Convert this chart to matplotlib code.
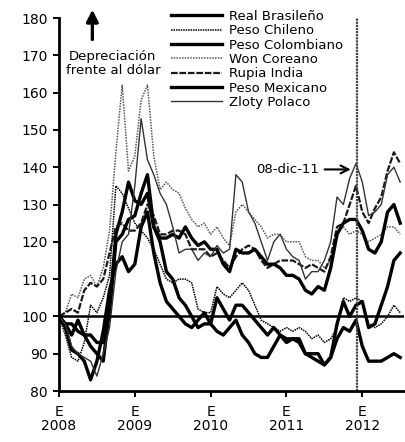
import numpy as np
import matplotlib.pyplot as plt
from matplotlib.lines import Line2D

# =====================================================
# Data (index, Jan 2008 = 100, monthly readings)
# =====================================================

t = 2008 + np.arange(55) / 12.0

real_brasileno = [100, 98, 95, 99, 95, 92, 90, 88, 102, 122, 128, 136,
                  131, 130, 133, 124, 120, 112, 110, 105, 103, 100, 97, 98,
                  98, 105, 102, 99, 103, 103, 101, 99, 97, 95, 97, 95,
                  94, 94, 94, 90, 90, 90, 87, 89, 98, 104, 100, 103,
                  104, 97, 98, 103, 108, 115, 117]
peso_chileno = [100, 95, 89, 88, 93, 103, 101, 105, 111, 135, 133, 129,
                125, 123, 121, 118, 114, 110, 109, 110, 110, 109, 102, 101,
                101, 108, 106, 105, 107, 109, 107, 103, 99, 98, 97, 96,
                97, 96, 97, 96, 94, 95, 93, 94, 97, 105, 104, 105,
                104, 98, 97, 98, 100, 103, 101]
peso_colombiano = [100, 97, 91, 90, 88, 83, 88, 96, 107, 114, 116, 112,
                   114, 124, 128, 117, 109, 104, 102, 100, 98, 97, 99, 101,
                   98, 96, 95, 97, 99, 95, 93, 90, 89, 89, 92, 95,
                   93, 94, 93, 90, 89, 88, 87, 89, 94, 97, 96, 99,
                   92, 88, 88, 88, 89, 90, 89]
won_coreano = [100, 101, 106, 105, 110, 111, 108, 113, 123, 144, 162, 139,
               143, 158, 162, 143, 134, 136, 134, 133, 129, 126, 124, 125,
               122, 124, 121, 119, 128, 130, 128, 126, 124, 121, 122, 122,
               120, 120, 120, 116, 115, 115, 113, 115, 123, 124, 122, 123,
               122, 120, 121, 122, 124, 124, 122]
rupia_india = [100, 101, 102, 101, 107, 109, 108, 110, 117, 124, 125, 123,
               123, 125, 130, 127, 122, 122, 123, 123, 122, 118, 118, 118,
               116, 117, 115, 113, 116, 118, 119, 118, 115, 113, 114, 115,
               115, 115, 114, 113, 114, 113, 112, 116, 124, 125, 130, 135,
               128, 125, 129, 132, 139, 144, 141]
peso_mexicano = [100, 98, 98, 96, 95, 95, 93, 93, 101, 120, 122, 126,
                 127, 133, 138, 124, 121, 121, 122, 121, 124, 121, 119, 120,
                 118, 118, 114, 112, 118, 117, 117, 118, 116, 114, 114, 113,
                 111, 111, 110, 107, 106, 108, 107, 113, 122, 125, 126, 126,
                 123, 118, 117, 120, 128, 130, 125]
zloty_polaco = [100, 98, 92, 90, 89, 88, 84, 90, 97, 112, 120, 122,
                135, 153, 142, 138, 133, 130, 124, 117, 118, 118, 115, 117,
                116, 119, 117, 118, 138, 136, 128, 125, 120, 115, 120, 122,
                118, 116, 115, 110, 112, 112, 115, 120, 132, 130, 137, 141,
                136, 127, 128, 130, 138, 140, 136]

series_names = ["Real Brasileño", "Peso Chileno", "Peso Colombiano",
                "Won Coreano", "Rupia India", "Peso Mexicano", "Zloty Polaco"]
series_data = [real_brasileno, peso_chileno, peso_colombiano,
               won_coreano, rupia_india, peso_mexicano, zloty_polaco]

year_ticks = [2008, 2009, 2010, 2011, 2012]
year_labels = ["E\n2008", "E\n2009", "E\n2010", "E\n2011", "E\n2012"]
marker_date = 2011 + 341 / 365.0   # 08-dic-11

# =====================================================
# Styles
# =====================================================

plt.rcParams["font.family"] = ["DejaVu Sans"]

styles = [
    dict(color="black", lw=2.4, ls="-"),
    dict(color="black", lw=1.1, ls=(0, (1, 0.6))),
    dict(color="black", lw=2.4, ls="-"),
    dict(color="#555555", lw=1.1, ls=(0, (1, 0.8))),
    dict(color="#1a1a1a", lw=1.6, ls=(0, (3, 0.8))),
    dict(color="black", lw=2.4, ls="-"),
    dict(color="#333333", lw=1.0, ls="-"),
]

# =====================================================
# Plot
# =====================================================

fig = plt.figure(figsize=(4.05, 4.42), dpi=100)
ax = fig.add_axes([59 / 405, 51 / 442, 345 / 405, 373 / 442])

for data, st in zip(series_data, styles):
    ax.plot(t, data, color=st["color"], lw=st["lw"], linestyle=st["ls"])

ax.axhline(100, color="black", lw=1.8)
ax.axvline(marker_date, color="#444444", lw=1.6, ls=(0, (1, 0.4)))

ax.set_xlim(2008, 2012.55)
ax.set_ylim(80, 180)
ax.set_yticks(range(80, 181, 10))
ax.set_xticks(year_ticks)
ax.set_xticklabels(year_labels, linespacing=1.05)
ax.tick_params(labelsize=10, direction="out", length=4, width=1.4)
ax.tick_params(axis="x", pad=6)
ax.tick_params(axis="y", pad=4)

for side in ["top", "right"]:
    ax.spines[side].set_visible(False)
for side in ["left", "bottom"]:
    ax.spines[side].set_linewidth(2.0)

# Legend
handles = [Line2D([0], [0], color=st["color"], lw=st["lw"], linestyle=st["ls"])
           for st in styles]
fig.legend(handles, series_names, loc="upper left",
           bbox_to_anchor=(171 / 405, 1 - 10 / 442), frameon=False,
           fontsize=9.5, handlelength=3.9, handletextpad=0.5,
           labelspacing=0.1, borderpad=0, borderaxespad=0)

# Annotations
ax.annotate("", xy=(2008.44, 183), xytext=(2008.44, 173.5),
            annotation_clip=False,
            arrowprops=dict(arrowstyle="-|>,head_width=0.35,head_length=0.7",
                            color="black", lw=2.4))
ax.text(2008.71, 167.8, "Depreciación\nfrente al dólar", ha="center",
        va="center", fontsize=9.5, linespacing=1.15)

ax.annotate("08-dic-11", xy=(marker_date - 0.05, 139.4),
            xytext=(2010.6, 139.4), va="center", fontsize=9.5,
            arrowprops=dict(arrowstyle="->,head_width=0.3,head_length=0.6",
                            color="black", lw=1.5))

fig.savefig("out.png", dpi=100)
